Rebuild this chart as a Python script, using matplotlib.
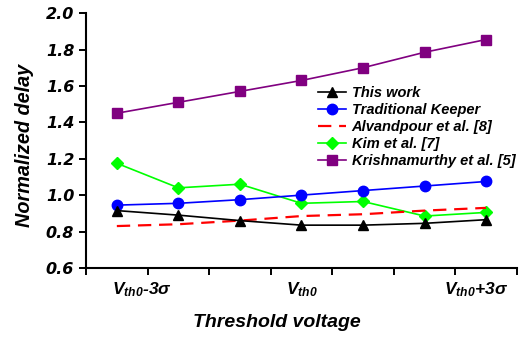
import matplotlib
matplotlib.use("Agg")
import matplotlib.pyplot as plt
import numpy as np

# ─── Data ────────────────────────────────────────────────────────────────────
n_points = 7
this_work = [0.915, 0.89, 0.86, 0.835, 0.835, 0.845, 0.865]
traditional = [0.945, 0.955, 0.975, 1.00, 1.025, 1.05, 1.075]
alvandpour = [0.83, 0.84, 0.86, 0.885, 0.895, 0.915, 0.93]
kim = [1.175, 1.04, 1.06, 0.955, 0.965, 0.885, 0.905]
krishnamurthy = [1.45, 1.51, 1.57, 1.63, 1.70, 1.785, 1.855]
x_labels = [r"$V_{th0}$-3σ", r"$V_{th0}$", r"$V_{th0}$+3σ"]
label_pos = [0.4, 3.0, 5.84]
y_ticks = [0.6, 0.8, 1.0, 1.2, 1.4, 1.6, 1.8, 2.0]

plt.rcParams["font.family"] = ["Liberation Sans", "DejaVu Sans"]
plt.rcParams["font.weight"] = "bold"
plt.rcParams["font.style"] = "italic"
plt.rcParams["mathtext.fontset"] = "custom"
plt.rcParams["mathtext.rm"] = "Liberation Sans:bold:italic"
plt.rcParams["mathtext.it"] = "Liberation Sans:bold:italic"
plt.rcParams["mathtext.bf"] = "Liberation Sans:bold:italic"

fig = plt.figure(figsize=(5.28, 3.37), dpi=100)
ax = fig.add_axes([0.163, 0.205, 0.816, 0.756])
x = np.arange(n_points)

h5, = ax.plot(x, krishnamurthy, color="#800080", marker="s", ms=7.5, lw=1.2,
              label="Krishnamurthy et al. [5]")
h4, = ax.plot(x, kim, color="#00FF00", marker="D", ms=6.5, lw=1.2,
              label="Kim et al. [7]")
h3, = ax.plot(x, alvandpour, color="#FF0000", lw=1.6, dashes=(6, 3.5),
              label="Alvandpour et al. [8]")
h2, = ax.plot(x, traditional, color="#0000FF", marker="o", ms=7.5, lw=1.2,
              label="Traditional Keeper")
h1, = ax.plot(x, this_work, color="black", marker="^", ms=7.5, lw=1.2,
              label="This work")

ax.set_xlim(-0.5, n_points - 0.5)
ax.set_ylim(0.6, 2.0)
ax.set_yticks(y_ticks)
ax.set_yticklabels([f"{v:.1f}" for v in y_ticks], fontsize=11.5,
                   family="DejaVu Sans", fontweight="bold", fontstyle="oblique")
ax.set_xticks(np.arange(-0.5, n_points, 1.0))
ax.set_xticklabels([])
ax.tick_params(axis="both", direction="out", length=5, width=1.4)
for xp, lab in zip(label_pos, x_labels):
    ax.text(xp, -0.085, lab, transform=ax.get_xaxis_transform(), ha="center",
            va="center", fontsize=12.5, fontweight="bold", fontstyle="italic")

for s in ["top", "right"]:
    ax.spines[s].set_visible(False)
for s in ["left", "bottom"]:
    ax.spines[s].set_linewidth(1.5)

ax.text(0.443, -0.215, "Threshold voltage", transform=ax.transAxes,
        ha="center", va="center", fontsize=14, fontweight="bold",
        fontstyle="italic")
ax.set_ylabel("Normalized delay", fontsize=14.3, fontweight="bold",
              fontstyle="italic")
ax.yaxis.set_label_coords(-0.122, 0.48)

leg = ax.legend(handles=[h1, h2, h3, h4, h5], loc="upper left",
                bbox_to_anchor=(0.525, 0.735), frameon=False, fontsize=10.5,
                handlelength=1.9, handletextpad=0.4, labelspacing=0.2,
                borderaxespad=0)
for t in leg.get_texts():
    t.set_fontweight("bold")
    t.set_fontstyle("italic")

fig.savefig("out.png", dpi=100)
